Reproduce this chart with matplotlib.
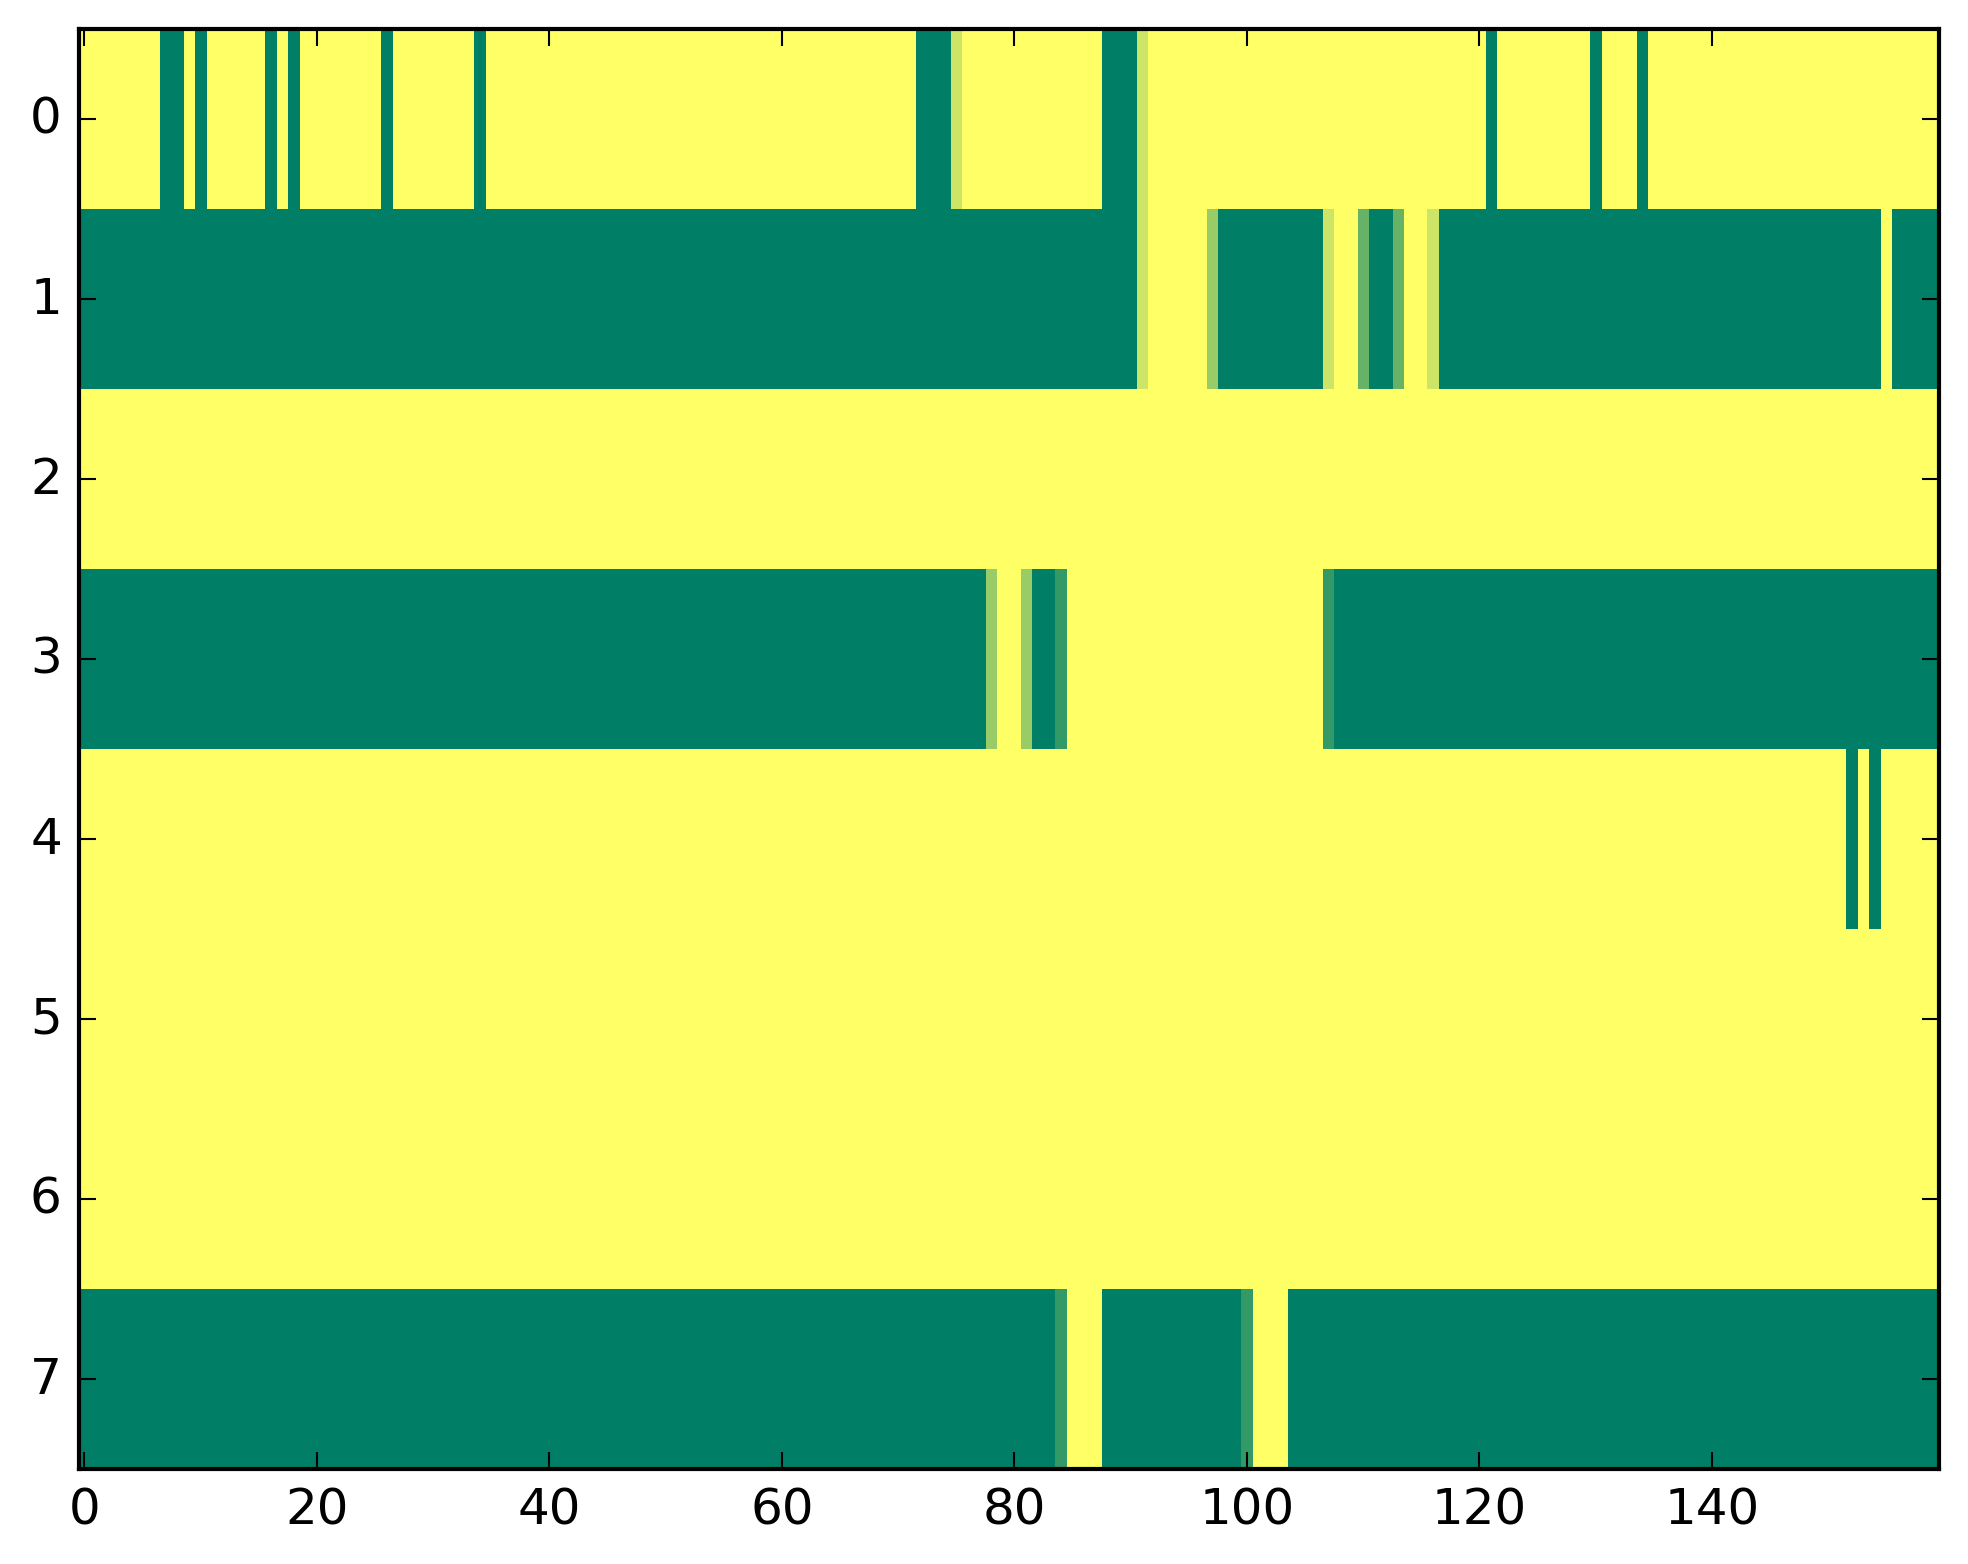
import numpy as np
import matplotlib
matplotlib.use("Agg")
import matplotlib.pyplot as plt

# Each character is one cell value in fifths (0 -> 0.0, 5 -> 1.0), 160 columns per row.
row0 = ("5555555005 0555550505 5555550555 5555055555 5555555555 5555555555 5555555555 5500045555 "
        "5555555500 0455555555 5555555555 5555555555 5055555555 0555055555 5555555555 5555555555")
row1 = ("0000000000 0000000000 0000000000 0000000000 0000000000 0000000000 0000000000 0000000000 "
        "0000000000 0455555300 0000000455 2002554000 0000000000 0000000000 0000000000 0000050000")
row2 = ("5555555555 5555555555 5555555555 5555555555 5555555555 5555555555 5555555555 5555555555 "
        "5555555555 5555555555 5555555555 5555555555 5555555555 5555555555 5555555555 5555555555")
row3 = ("0000000000 0000000000 0000000000 0000000000 0000000000 0000000000 0000000000 0000000035 "
        "5300155555 5555555555 5555555100 0000000000 0000000000 0000000000 0000000000 0000000000")
row4 = ("5555555555 5555555555 5555555555 5555555555 5555555555 5555555555 5555555555 5555555555 "
        "5555555555 5555555555 5555555555 5555555555 5555555555 5555555555 5555555555 5505055555")
row5 = ("5555555555 5555555555 5555555555 5555555555 5555555555 5555555555 5555555555 5555555555 "
        "5555555555 5555555555 5555555555 5555555555 5555555555 5555555555 5555555555 5555555555")
row6 = ("5555555555 5555555555 5555555555 5555555555 5555555555 5555555555 5555555555 5555555555 "
        "5555555555 5555555555 5555555555 5555555555 5555555555 5555555555 5555555555 5555555555")
row7 = ("0000000000 0000000000 0000000000 0000000000 0000000000 0000000000 0000000000 0000000000 "
        "0000155500 0000000000 1555000000 0000000000 0000000000 0000000000 0000000000 0000000000")

rows = [row0, row1, row2, row3, row4, row5, row6, row7]


def decode(s):
    digits = s.replace(" ", "")
    assert len(digits) == 160, len(digits)
    return [int(c) / 5.0 for c in digits]


data = np.array([decode(r) for r in rows])

plt.style.use("classic")
fig, ax = plt.subplots(figsize=(8, 6), dpi=300)
ax.imshow(data, cmap="summer", aspect="auto", interpolation="nearest", vmin=0, vmax=1)
ax.set_xticks(np.arange(0, 160, 20))
ax.set_yticks(np.arange(0, 8, 1))
fig.savefig("out.png", dpi=300, bbox_inches="tight")
